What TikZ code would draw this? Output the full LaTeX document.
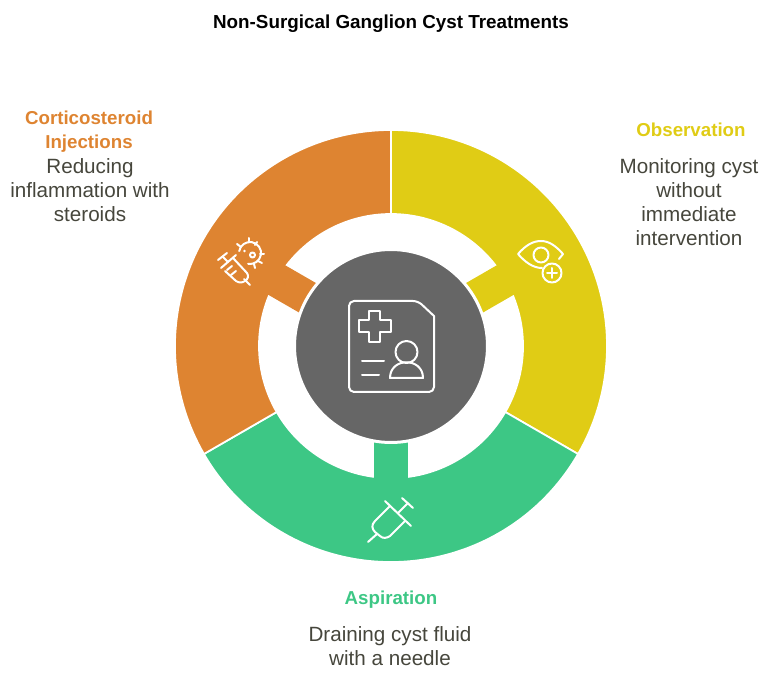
\documentclass[tikz,border=0pt]{standalone}
\usepackage{fontspec}
\setmainfont{Liberation Sans}
\usetikzlibrary{positioning}
\tikzset{
  sector/.style={draw=white,line width=0.035cm},
  icon/.style={draw=white,line width=0.04cm,line cap=round,line join=round},
  title/.style={font=\fontsize{10.72}{13.66}\selectfont\bfseries,text=black,inner sep=0pt},
  head/.style={font=\fontsize{10.65}{13.66}\selectfont\bfseries,align=center,inner sep=0pt},
  body/.style={font=\fontsize{11.75}{13.66}\selectfont,align=center,inner sep=0pt,text=clb},
}
\begin{document}
\begin{tikzpicture}[x=0.02cm,y=-0.02cm]
%
\useasboundingbox (0,0) rectangle (765,675);
%
\definecolor{cs0}{rgb}{0.878,0.800,0.082}
\definecolor{cs1}{rgb}{0.239,0.780,0.522}
\definecolor{cs2}{rgb}{0.871,0.518,0.192}
\definecolor{chub}{rgb}{0.400,0.400,0.400}
\definecolor{clb}{rgb}{0.275,0.275,0.235}
%
\begin{scope}[shift={(391,346)},y=0.02cm]
\filldraw[sector,fill=cs0] (90:216) arc[start angle=90,end angle=-30,radius=216] -- (-30:132) arc[start angle=-30,end angle=90,radius=132] -- cycle;
\filldraw[sector,fill=cs1] (-30:216) arc[start angle=-30,end angle=-150,radius=216] -- (-150:132) arc[start angle=-150,end angle=-30,radius=132] -- cycle;
\filldraw[sector,fill=cs2] (210:216) arc[start angle=210,end angle=90,radius=216] -- (90:132) arc[start angle=90,end angle=210,radius=132] -- cycle;
%
\fill[cs0,rotate=30] (90,-17) rectangle (136,17);
\fill[cs1,rotate=-90] (90,-17) rectangle (136,17);
\fill[cs2,rotate=150] (90,-17) rectangle (136,17);
%
\node[circle,outer sep=0pt,inner sep=0pt,minimum size=3.86cm,fill=chub,draw=white,line width=0.06cm] (hub) at (0,0) {};
\end{scope}
%
% centre
\draw[icon,rounded corners=0.1cm] (380,301) -- (418,301) [sharp corners] -- (434,316) [rounded corners=0.1cm] -- (434,392) -- (349,392) -- (349,301) -- cycle;
\draw[icon] (369,311) -- (380,311) -- (380,320) -- (391,320) -- (391,332) -- (380,332) -- (380,342) -- (369,342) -- (369,332) -- (359,332) -- (359,320) -- (369,320) -- cycle;
\draw[icon] (362,361) -- (384,361);
\draw[icon] (362,375) -- (379,375);
\draw[icon] (406.5,352) circle (11);
\draw[icon] (390,378) .. controls (390,357) and (423,357) .. (423,378) -- cycle;
%
% eye
\draw[icon] (542,268) .. controls (533,268) and (525,262) .. (518,254) .. controls (526,245) and (533,241) .. (541,241) .. controls (549,241) and (556,246) .. (563,254) -- (559,259);
\draw[icon] (541,255) circle (7.5);
\draw[icon] (552,273) circle (9.5);
\draw[icon] (547,273) -- (557,273);
\draw[icon] (552,268) -- (552,278);
%
% syringe
\draw[icon] (385,501) -- (411,526);
\draw[icon] (402,498) -- (413,508);
\draw[icon] (408,503) -- (398,513);
\draw[icon] (390,506) -- (375,521) .. controls (371,525) and (372,529) .. (375,532) -- (380,536) .. controls (383,539) and (387,538) .. (390,536) -- (405,521);
\draw[icon] (377,534) -- (368,542);
%
% syringe and germ
\draw[icon] (218,260) -- (227,253);
\draw[icon] (223,257) -- (228,262);
\draw[icon] (221,268) -- (236,255);
\draw[icon] (233,258) -- (247,273) .. controls (249,276) and (248,279) .. (245,281) .. controls (242,283) and (239,283) .. (236,281) -- (225,271);
\draw[icon] (244,279) -- (250,285);
\draw[icon] (227,270) -- (232,266);
\draw[icon] (231,275) -- (236,271);
\draw[icon] (239.2,251.1) arc[start angle=-170,end angle=100,radius=11];
\draw[icon] (252.5,255) circle (2.5);
\fill[white] (244.5,251) circle (1.4);
\draw[icon] (237,244) -- (241,247);
\draw[icon] (249,238) -- (249,242);
\draw[icon] (257,242) -- (255,245);
\draw[icon] (264,254) -- (260,254);
\draw[icon] (262,263) -- (258,261);
\draw[icon] (255,268) -- (254,264);
%
\node[title] (ttl) at (391,24) {Non-Surgical Ganglion Cyst Treatments};
%
\node[head,text=cs0] (h0) at (691,130) {Observation};
\node[body] (b0) at (689,202) {Monitoring cyst\\without\\immediate\\intervention};
\node[head,text=cs1] (h1) at (391,600) {Aspiration};
\node[body] (b1) at (390,646) {Draining cyst fluid\\with a needle};
\node[head,text=cs2] (h2) at (89,132) {Corticosteroid\\Injections};
\node[body] (b2) at (90,190) {Reducing\\inflammation with\\steroids};
%
\end{tikzpicture}
\end{document}
